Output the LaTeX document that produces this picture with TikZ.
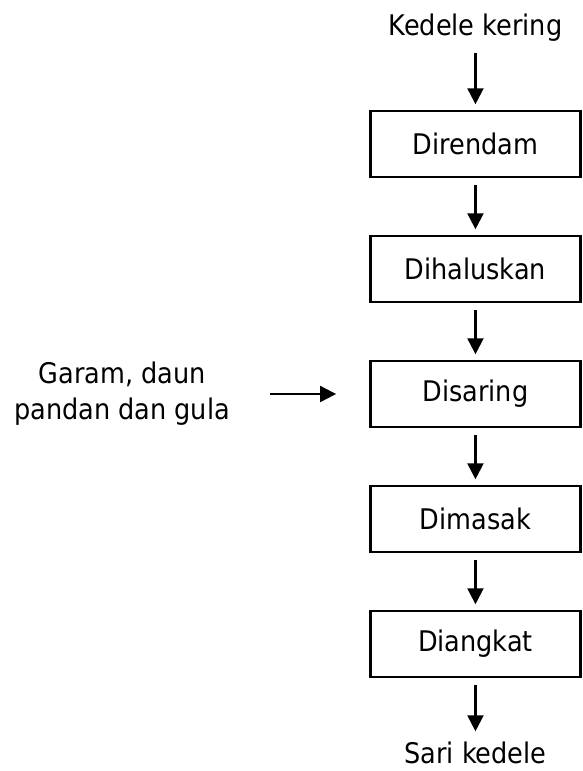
\documentclass[tikz,border=0pt]{standalone}
\usepackage{fontspec}
\setmainfont{DejaVu Sans Condensed}
\usetikzlibrary{positioning,arrows.meta}
\tikzset{proses/.style={draw,line width=1.6pt,minimum width=157.5pt,minimum height=50pt,inner sep=0pt}}

\begin{document}
\begin{tikzpicture}[>={Triangle[length=12pt,width=12pt]},line width=1.6pt,shorten >=4pt,shorten <=5pt,node distance=93.75pt,on grid,font=\fontsize{21.3pt}{27pt}\selectfont]
   \useasboundingbox (-356.6pt,108pt) rectangle (79.9pt,-470.25pt);
   \node[proses] (direndam) {Direndam};
   \node (kedele) [above=87.5pt of direndam] {Kedele kering};
   \node[proses] (dihaluskan) [below=of direndam] {Dihaluskan};
   \node[proses] (disaring) [below=of dihaluskan] {Disaring};
   \node[proses] (dimasak) [below=of disaring] {Dimasak};
   \node[proses] (diangkat) [below=of dimasak] {Diangkat};
   \node[inner sep=1pt] (sari) [below=81.5pt of diangkat] {Sari kedele};
   \node[align=center] (garam) [left=265pt of disaring] {Garam, daun\\pandan dan gula};
    \path[->]
    (kedele) edge (direndam)
    (direndam) edge (dihaluskan)
    (dihaluskan) edge (disaring)
    (disaring) edge (dimasak)
    (dimasak) edge (diangkat)
    (diangkat) edge [shorten >=6pt] (sari)
    (garam) edge [shorten <=26pt, shorten >=25pt] (disaring);

\end{tikzpicture}
\end{document}
